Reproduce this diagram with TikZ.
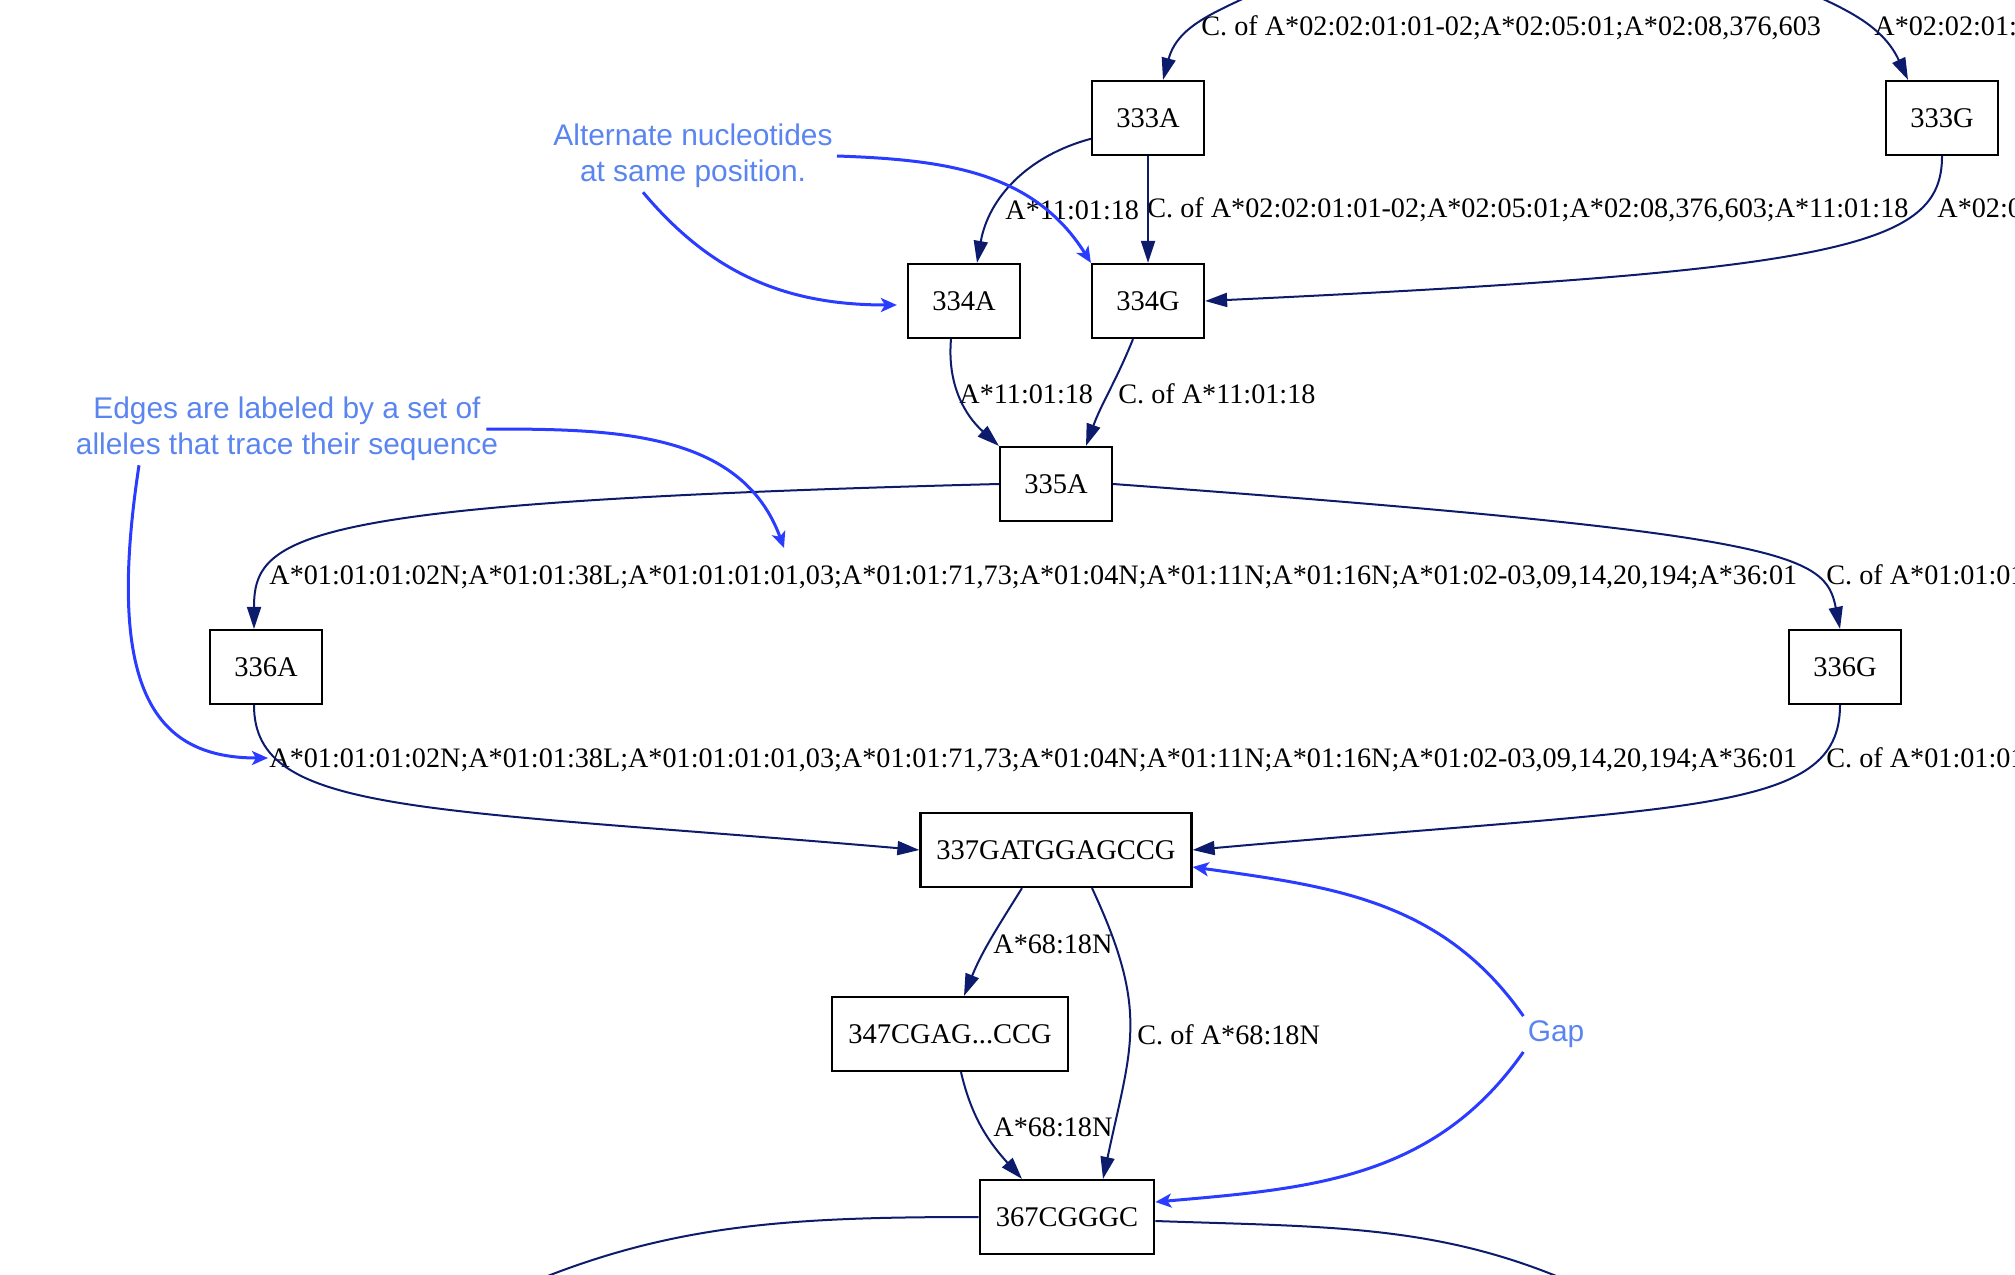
\documentclass[tikz,border=0pt]{standalone}
\usepackage{fontspec}
\setmainfont{Liberation Serif}
\setsansfont{Liberation Sans}
\usetikzlibrary{arrows.meta,calc}
\definecolor{edgenavy}{HTML}{0C1B6C}
\definecolor{hintblue}{HTML}{2A3CFF}
\definecolor{notetext}{HTML}{5A85F0}

\begin{document}
\begin{tikzpicture}[x=0.5bp,y=0.5bp,
  seq/.style={draw,line width=1.1bp,minimum width=56bp,minimum height=37bp,inner xsep=8bp,font=\fontsize{14.3}{17}\selectfont},
  lbl/.style={anchor=west,inner sep=0pt,font=\fontsize{14.15}{17}\selectfont},
  note/.style={align=center,text=notetext,inner sep=2bp,font=\sffamily\fontsize{15}{18}\selectfont},
  link/.style={draw=edgenavy,line width=1bp,-{Triangle[length=11bp,width=7bp]}},
  hint/.style={draw=hintblue,line width=1.5bp,-{Stealth[length=8bp,width=7bp,inset=2bp]}}]
  \useasboundingbox (0,0) rectangle (2015,-1275);
  \clip (0,0) rectangle (2015,-1275);

  % sequence nodes
  \node[seq] (n333A) at (1148,-118) {333A};
  \node[seq] (n333G) at (1942,-118) {333G};
  \node[seq] (n334A) at (964,-301) {334A};
  \node[seq] (n334G) at (1148,-301) {334G};
  \node[seq] (n335A) at (1056,-484) {335A};
  \node[seq] (n336A) at (266,-667) {336A};
  \node[seq] (n336G) at (1845,-667) {336G};
  \node[seq] (n337) at (1056,-850) {337GATGGAGCCG};
  \node[seq] (n347) at (950,-1034) {347CGAG...CCG};
  \node[seq] (n367) at (1067,-1217) {367CGGGC};

  % ends outside the frame
  \coordinate (top1) at (1290,25);
  \coordinate (top2) at (1770,25);
  \coordinate (offL) at (470,-1310);
  \coordinate (offR) at (1610,-1300);

  % allele labels
  \node[lbl] (l1) at (1201,-28) {C. of A*02:02:01:01-02;A*02:05:01;A*02:08,376,603};
  \node[lbl] (l2) at (1874,-28) {A*02:02:01:01-02;A*02:05:01;A*02:08,376,603};
  \node[lbl] (l3) at (1005,-210) {A*11:01:18};
  \node[lbl] (l4) at (1147,-210) {C. of A*02:02:01:01-02;A*02:05:01;A*02:08,376,603;A*11:01:18};
  \node[lbl] (l5) at (1937,-210) {A*02:02:01:01-02;A*02:05:01;A*02:08,376,603};
  \node[lbl] (l6) at (959,-394) {A*11:01:18};
  \node[lbl] (l7) at (1118,-394) {C. of A*11:01:18};
  \node[lbl] (l8) at (269,-577) {A*01:01:01:02N;A*01:01:38L;A*01:01:01:01,03;A*01:01:71,73;A*01:04N;A*01:11N;A*01:16N;A*01:02-03,09,14,20,194;A*36:01};
  \node[lbl] (l9) at (1826,-577) {C. of A*01:01:01:02N;A*01:01:38L};
  \node[lbl] (l10) at (269,-760) {A*01:01:01:02N;A*01:01:38L;A*01:01:01:01,03;A*01:01:71,73;A*01:04N;A*01:11N;A*01:16N;A*01:02-03,09,14,20,194;A*36:01};
  \node[lbl] (l11) at (1826,-760) {C. of A*01:01:01:02N;A*01:01:38L};
  \node[lbl] (l12) at (993,-944) {A*68:18N};
  \node[lbl] (l13) at (1137,-1035) {C. of A*68:18N};
  \node[lbl] (l14) at (993,-1127) {A*68:18N};

  % notes
  \node[note] (nAlt) at (693,-156) {Alternate nucleotides\\at same position.};
  \node[note] (nEdg) at (287,-429) {Edges are labeled by a set of\\alleles that trace their sequence};
  \node[note] (nGap) at (1556,-1034) {Gap};
  \coordinate (tipE) at (784,-548);
  \coordinate (tipS) at (268,-758);

  \draw[link] (top1) to[out=210,in=75] ($(n333A.north)+(15,0)$);
  \draw[link] (top2) to[out=-25,in=115] ($(n333G.north)+(-34,0)$);
  \draw[link] (n333A.200) to[out=195,in=80] ($(n334A.north)+(13,0)$);
  \draw[link] (n333A) -- (n334G);
  \draw[link] (n333G.south) .. controls +(0,-90) and +(640,30) .. (n334G.east);
  \draw[link] ($(n334A.south)+(-13,0)$) to[out=-95,in=138] (n335A.north west);
  \draw[link] ($(n334G.south)+(-15,0)$) to[out=-112,in=70] ($(n335A.north)+(30,0)$);
  \draw[link] (n335A.west) .. controls +(-700,-18) and +(0,95) .. ($(n336A.north)+(-12,0)$);
  \draw[link] (n335A.east) .. controls +(680,-50) and +(-15,75) .. ($(n336G.north)+(-5,0)$);
  \draw[link] ($(n336A.south)+(-12,0)$) .. controls +(0,-110) and +(-500,43) .. (n337.west);
  \draw[link] ($(n336G.south)+(-5,0)$) .. controls +(0,-110) and +(500,45) .. (n337.east);
  \draw[link] ($(n337.south)+(-34,0)$) to[out=-122,in=68] ($(n347.north)+(14,0)$);
  \draw[link] ($(n337.south)+(36,0)$) to[out=-65,in=78,looseness=1.2] ($(n367.north)+(36,0)$);
  \draw[link] ($(n347.south)+(11,0)$) to[out=-77,in=132] ($(n367.north)+(-45,0)$);
  \draw[link] (n367.west) to[out=180,in=25] (offL);
  \draw[link] ($(n367.east)+(0,-4)$) to[out=-2,in=155] (offR);

  \draw[hint] ($(nAlt.south)+(-50,0)$) to[out=-50,in=180] ($(n334A.west)+(-10,-4)$);
  \draw[hint] (nAlt.east) to[out=-2,in=122] (n334G.north west);
  \draw[hint] ($(nEdg.east)+(-16,0)$) to[out=0,in=110] (tipE);
  \draw[hint] ($(nEdg.south)+(-148,0)$) .. controls +(-35,-230) and +(-110,0) .. (tipS);
  \draw[hint] (nGap.north west) to[out=125,in=-8] ($(n337.east)+(0,-17)$);
  \draw[hint] (nGap.south west) to[out=-125,in=5] ($(n367.east)+(0,15)$);
\end{tikzpicture}
\end{document}
